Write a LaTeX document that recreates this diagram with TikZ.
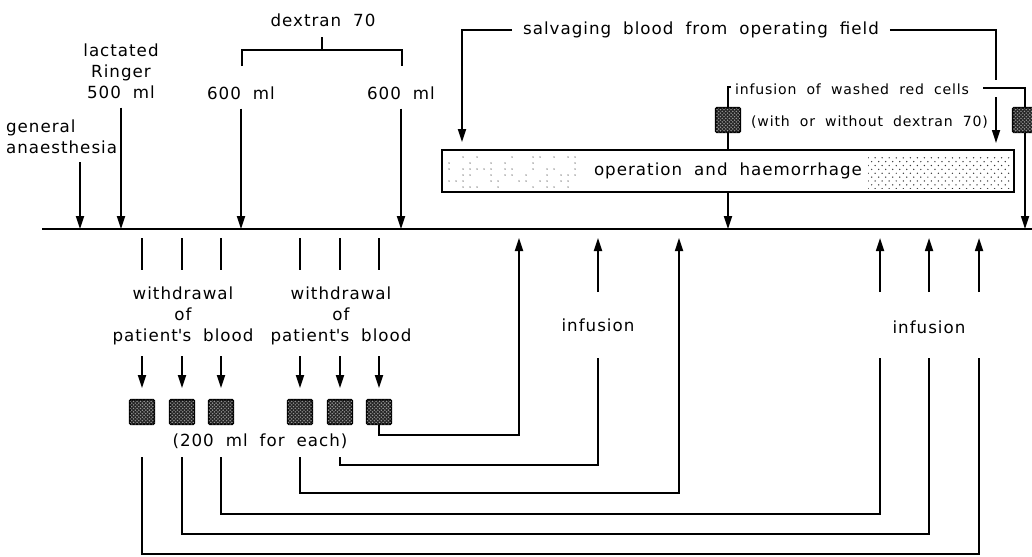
\documentclass[tikz,border=0pt]{standalone}
\usepackage{fontspec}
\setmainfont{DejaVu Sans}[LetterSpace=6, WordSpace=1.9]
\usetikzlibrary{arrows.meta,calc,patterns}

\pgfdeclarepatternformonly{fine dots}{\pgfqpoint{-0.6pt}{-0.6pt}}{\pgfqpoint{2.6pt}{2.6pt}}{\pgfqpoint{2pt}{2pt}}{%
  \pgfpathcircle{\pgfqpoint{0pt}{0pt}}{0.45pt}%
  \pgfpathcircle{\pgfqpoint{1pt}{1pt}}{0.45pt}%
  \pgfusepath{fill}}
\pgfdeclarepatternformonly{stipple}{\pgfqpoint{-0.5pt}{-0.5pt}}{\pgfqpoint{4.5pt}{4.5pt}}{\pgfqpoint{4pt}{4.4pt}}{%
  \pgfpathcircle{\pgfqpoint{0pt}{0pt}}{0.42pt}%
  \pgfpathcircle{\pgfqpoint{2pt}{2.2pt}}{0.42pt}%
  \pgfusepath{fill}}

\begin{document}
\begin{tikzpicture}[
      x=0.2mm, y=-0.2mm,
      font=\fontsize{9.5}{12}\selectfont,
      every node/.style={inner sep=1pt},
      line/.style={line width=1pt},
      arr/.style={line width=1pt, -{Triangle[length=2.6mm,width=1.6mm]}},
      txt/.style={align=center},
      small/.style={font=\fontsize{8}{10}\selectfont},
      bag/.style={draw, line width=0.9pt, fill=black!85, minimum size=4.9mm,
        inner sep=0pt, rounded corners=0.6pt,
        postaction={pattern=fine dots, pattern color=black!40}},
      opbox/.style={draw, line width=1pt, minimum width=114.4mm, minimum height=8.4mm}
    ]
    \useasboundingbox (0,0) rectangle (1032,556);
    % time axis
    \coordinate (axL) at (42,229);
    \coordinate (axR) at (1032,229);
    \draw[line width=1.2pt] (axL) -- (axR);

    % before the operation
    \node[txt, align=left, anchor=west] (ga) at (4,137) {general\\anaesthesia};
    \node[txt] (lr) at (121,71) {lactated\\Ringer\\500 ml};
    \node (dA) at (241,93) {600 ml};
    \node (dB) at (401,93) {600 ml};
    \node (dx) at (323,20) {dextran 70};
    \coordinate (sGA) at (80,162);
    \draw[arr] (sGA) -- (sGA |- axL);
    \foreach \v in {lr, dA, dB} {
      \draw[arr] ([yshift=-4pt]\v.south) -- (\v.south |- axL);
    }
    \draw[line] (242,66) -- (242,50) -- (402,50) -- (402,66);
    \draw[line] (322,50) -- (322,37);

    % operation
    \node[opbox] (op) at (728,171) {operation and haemorrhage};
    \fill[pattern=stipple, pattern color=black!80] (868,155) rectangle (1010,188);
    \pgfmathsetseed{7}
    \foreach \px in {449,456,...,577} {
      \foreach \py in {157,163,...,187} {
        \pgfmathparse{rnd<0.45 ? 1 : 0}
        \ifnum\pgfmathresult=1 \fill[black!75] (\px,\py) circle (0.42pt); \fi
      }
    }

    \node (salv) at (701,30) {salvaging blood from operating field};
    \coordinate (sL) at (462,30);
    \coordinate (sR) at (996,30);
    \draw[arr] ([xshift=-5pt]salv.west) -- (sL) -- (462,142);
    \draw[line] ([xshift=5pt]salv.east) -- (sR) -- (996,80);
    \draw[arr] (996,97) -- (996,143);

    \node[small, anchor=west] (wash) at (733,89) {infusion of washed red cells};
    \node[small, anchor=west] (wodx) at (749,122) {(with or without dextran 70)};
    \node[bag] (bagA) at (728,120) {};
    \node[bag] (bagB) at (1025,120) {};
    \draw[line] (731,87) -| (bagA.north);
    \draw[line] (bagA.south) -- (bagA.south |- op.north);
    \draw[arr] (op.south -| bagA) -- (bagA |- axL);
    \draw[line] (983,88) -| (bagB.north);
    \draw[arr] (bagB.south) -- (bagB |- axL);

    % withdrawal of blood
    \foreach \n/\x in {1/142, 2/182, 3/221, 4/300, 5/340, 6/379} {
      \draw[line] (\x,238) -- (\x,270);
      \node[bag] (bag\n) at (\x,412) {};
      \draw[arr] (\x,356) -- (\x,388);
    }
    \node[txt] (wdA) at (183,316) {withdrawal\\of\\patient\textquotesingle s blood};
    \node[txt] (wdB) at (341,316) {withdrawal\\of\\patient\textquotesingle s blood};
    \node (each) at (260,441) {(200 ml for each)};

    % re-infusion
    \node (infA) at (598,325) {infusion};
    \node (infB) at (929,327) {infusion};
    \draw[arr] (bag6.south) -- (379,435) -| (519,238);
    \draw[arr] (300,457) |- (679,493) -- (679,238);
    \foreach \x/\y/\u in {340/465/598, 221/514/880, 182/534/929, 142/554/979} {
      \draw[line] (\x,457) |- (\u,\y) -- (\u,358);
      \draw[arr] (\u,292) -- (\u,238);
    }
    \end{tikzpicture}
\end{document}
